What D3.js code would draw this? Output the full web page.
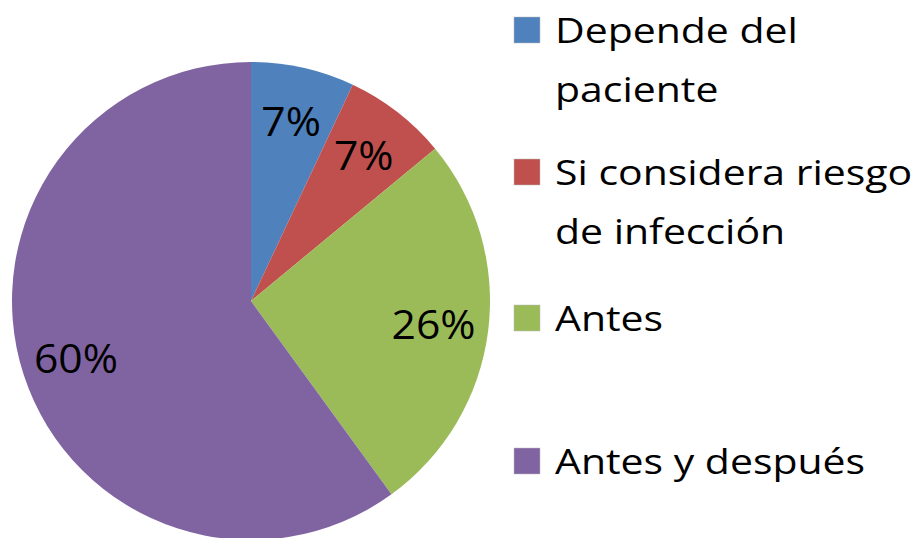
<!DOCTYPE html>
<html><head><meta charset="utf-8">
<script src="https://cdn.jsdelivr.net/npm/d3@7"></script>
<style>html,body{margin:0;padding:0;background:#fff;}</style>
</head><body>
<svg id="c" width="923" height="538"></svg>
<script>
const categories = ["Depende del paciente", "Si considera riesgo de infección", "Antes", "Antes y después"];
const legendLines = [["Depende del", "paciente"], ["Si considera riesgo", "de infección"], ["Antes"], ["Antes y después"]];
const values = [7, 7, 26, 60];
const labels = ["7%", "7%", "26%", "60%"];
const colors = ["#4F81BD", "#C0504D", "#9BBB59", "#8064A2"];

const svg = d3.select("#c");
const cx = 251, cy = 301, r = 239;
const pie = d3.pie().sort(null).value(d => d);
const arcs = pie(values);
const arc = d3.arc().innerRadius(0).outerRadius(r);
const labelArc = d3.arc().innerRadius(r * 0.77).outerRadius(r * 0.77);
const g = svg.append("g").attr("transform", `translate(${cx},${cy})`);
g.selectAll("path").data(arcs).join("path")
  .attr("d", arc).attr("fill", (d, i) => colors[i]);
g.selectAll("text").data(arcs).join("text")
  .attr("transform", d => { const [x, y] = labelArc.centroid(d); return `translate(${x},${y}) scale(1.04,1)`; })
  .attr("text-anchor", "middle").attr("dy", "0.36em")
  .attr("font-family", "'Open Sans', sans-serif").attr("font-size", 41)
  .attr("fill", "#000")
  .text((d, i) => labels[i]);

const legendY = [43, 185, 331, 474];
const lg = svg.append("g");
categories.forEach((c, i) => {
  lg.append("rect").attr("x", 514).attr("y", legendY[i] - 26).attr("width", 26).attr("height", 26)
    .attr("fill", colors[i]).attr("stroke", "#bbb").attr("stroke-width", 0.5);
  const t = lg.append("text").attr("transform", `translate(555,${legendY[i]}) scale(1.17,1)`)
    .attr("font-family", "'Open Sans', sans-serif").attr("font-size", 35).attr("fill", "#000");
  legendLines[i].forEach((line, j) => {
    t.append("tspan").attr("x", 0).attr("dy", j === 0 ? 0 : 59).text(line);
  });
});
</script>
</body></html>
